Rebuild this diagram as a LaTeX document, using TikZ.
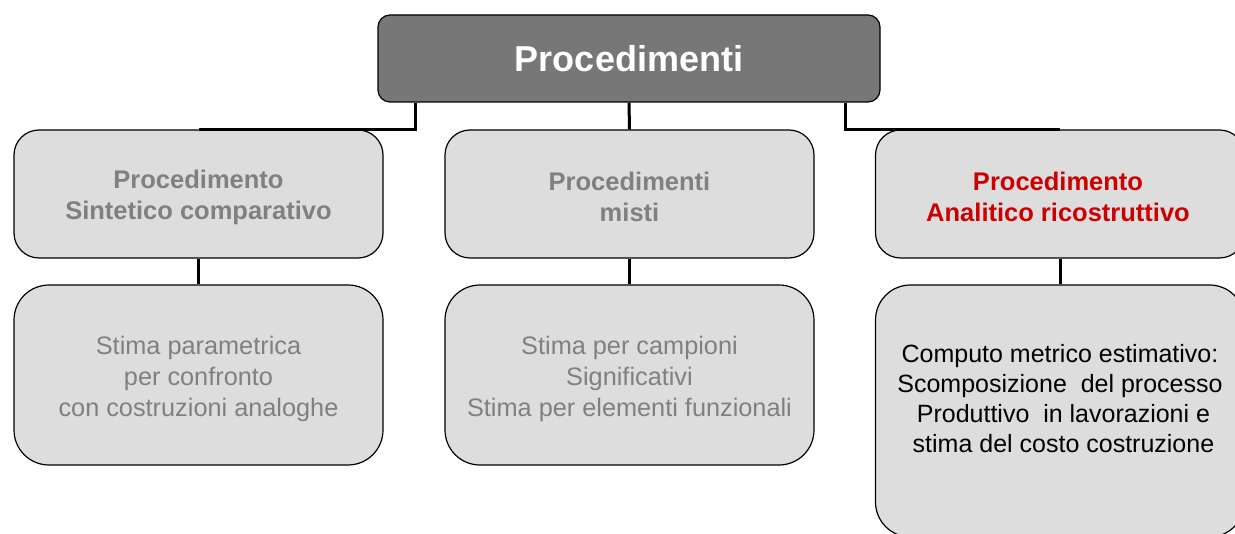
\documentclass[tikz,border=0pt]{standalone}
\usepackage{fontspec}
\setmainfont{Liberation Sans}
\usepackage{xcolor}
\usetikzlibrary{positioning}
\definecolor{topgray}{HTML}{777777}
\definecolor{boxgray}{HTML}{DDDDDD}
\definecolor{txtgray}{HTML}{808080}
\definecolor{txtred}{HTML}{CC0000}

\begin{document}
\begin{tikzpicture}[x=1pt,y=-1pt,
  topbox/.style={draw, line width=1.2pt, fill=topgray, rounded corners=12pt, minimum width=502pt,
    minimum height=87pt, text=white, font=\fontsize{36}{40}\selectfont\bfseries},
  headbox/.style={draw, line width=1.2pt, fill=boxgray, rounded corners=25pt, minimum width=369pt,
    minimum height=128pt, align=center, font=\fontsize{25.5}{31}\selectfont\bfseries},
  itembox/.style={draw, line width=1.2pt, fill=boxgray, rounded corners=35pt, minimum width=369pt,
    minimum height=180pt, align=center, font=\fontsize{25.3}{31}\selectfont},
  link/.style={line width=3pt}]
\useasboundingbox (0,0) rectangle (1235,534);
\clip (0,0) rectangle (1235,534);
% top
\node[topbox] (proc) at (629,58.5) {Procedimenti};
% second row
\node[headbox, text=txtgray] (sint) at (198.5,194) {};
\node[headbox, text=txtgray] (misti) at (629.5,194) {};
\node[headbox, text=txtred] (anal) at (1060,194) {};
\node[align=center, text=txtgray, font=\fontsize{25.5}{31}\selectfont\bfseries] (sinttxt) at (198.5,197) {Procedimento\\Sintetico comparativo};
\node[align=center, text=txtgray, font=\fontsize{25.5}{31}\selectfont\bfseries] (mistitxt) at (629.5,197) {Procedimenti\\misti};
\node[align=center, text=txtred, font=\fontsize{25.5}{31}\selectfont\bfseries] (analtxt) at (1058,197) {Procedimento\\Analitico ricostruttivo};
% third row
\node[itembox] (param) at (198.5,375) {};
\node[itembox] (camp) at (629.5,375) {};
\node[itembox, minimum height=252pt] (comp) at (1060,411) {};
\node[align=center, text=txtgray, font=\fontsize{25.3}{31}\selectfont] (paramtxt) at (198.5,379)
  {Stima parametrica\\per confronto\\con costruzioni analoghe};
\node[align=center, text=txtgray, font=\fontsize{25.3}{31}\selectfont] (camptxt) at (629.5,379)
  {Stima per campioni\\Significativi\\Stima per elementi funzionali};
\node[align=center, font=\fontsize{25}{30}\selectfont] (comptxt) at (1060,399)
  {Computo metrico estimativo:\\Scomposizione\ \ del processo\\\ Produttivo\ \ in lavorazioni e\\\ stima del costo costruzione};
% connectors
\draw[link] ([xshift=-214pt]proc.south) |- (sint.north);
\draw[link] (proc.south) -- (misti.north);
\draw[link] ([xshift=216pt]proc.south) |- (anal.north);
\draw[link] (sint.south) -- (param.north);
\draw[link] (misti.south) -- (camp.north);
\draw[link] (anal.south) -- (comp.north);
\end{tikzpicture}
\end{document}
